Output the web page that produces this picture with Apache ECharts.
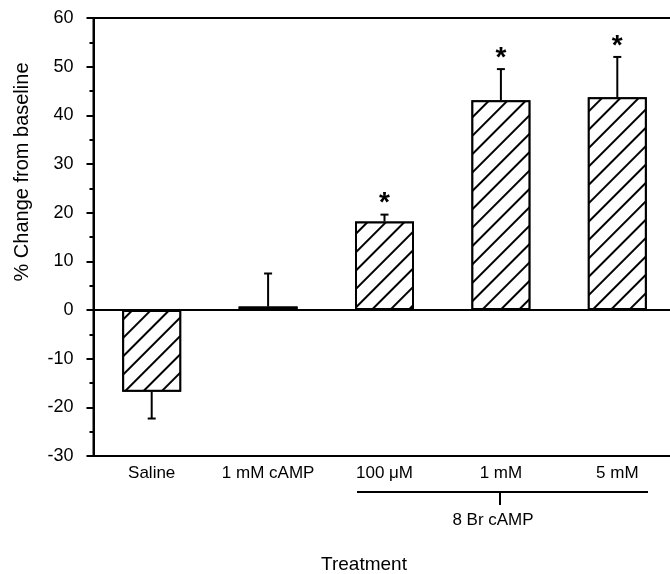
<!DOCTYPE html>
<html>
<head>
<meta charset="utf-8">
<script src="https://cdn.jsdelivr.net/npm/echarts@6/dist/echarts.min.js"></script>
<style>
  html, body { margin: 0; padding: 0; background: #fff; }
  #chart { width: 670px; height: 574px; }
</style>
</head>
<body>
<div id="chart"></div>
<script>
// treatments
const categories = ["Saline", "1 mM cAMP", "100 \u03BCM", "1 mM", "5 mM"];
// mean % change from baseline
const means = [-16.8, 0.7, 18.2, 43.1, 43.7];
// SEM (drawn away from zero)
const sems = [5.5, 6.8, 1.4, 6.4, 8.3];
// significance markers
const sig = [false, false, true, true, true];
const yTicks = [-30, -20, -10, 0, 10, 20, 30, 40, 50, 60];

const font = "'Liberation Sans', Arial, Helvetica, sans-serif";

const chart = echarts.init(document.getElementById("chart"));

const errData = means.map((m, i) => [i, m, sems[i], sig[i] ? 1 : 0]);

const option = {
  animation: false,
  backgroundColor: "#fff",
  grid: {
    left: 93.5,
    top: 18,
    width: 582,
    height: 438,
    outerBoundsMode: "none",
    show: true,
    borderColor: "#000",
    borderWidth: 2,
  },
  xAxis: {
    type: "category",
    data: categories,
    axisLine: { onZero: false, lineStyle: { color: "#000", width: 2 } },
    axisTick: { show: false },
    axisLabel: {
      color: "#000",
      fontFamily: font,
      fontSize: 17,
      margin: 9,
      interval: 0,
    },
  },
  yAxis: {
    type: "value",
    min: yTicks[0],
    max: yTicks[yTicks.length - 1],
    interval: 10,
    splitLine: { show: false },
    axisLine: { show: true, lineStyle: { color: "#000", width: 2 } },
    axisTick: { show: true, length: 7, lineStyle: { color: "#000", width: 2 } },
    minorTick: { show: true, splitNumber: 2, length: 4, lineStyle: { color: "#000", width: 2 } },
    axisLabel: {
      color: "#000",
      fontFamily: font,
      fontSize: 18,
      margin: 20,
    },
  },
  series: [
    {
      type: "bar",
      data: means,
      barWidth: 59,
      itemStyle: {
        color: "#fff",
        borderColor: "#000",
        borderWidth: 2,
        decal: {
          symbol: "rect",
          symbolSize: 1,
          dashArrayX: [1, 0],
          dashArrayY: [1.6, 10.4],
          rotation: -Math.PI / 4,
          color: "#000",
          backgroundColor: "#fff",
        },
      },
      markLine: {
        silent: true,
        symbol: "none",
        label: { show: false },
        lineStyle: { color: "#000", width: 2, type: "solid" },
        data: [{ yAxis: 0 }],
      },
      z: 2,
    },
    {
      // error bars + significance stars
      type: "custom",
      data: errData,
      z: 3,
      renderItem: (params, api) => {
        const i = api.value(0);
        const m = api.value(1);
        const e = api.value(2);
        const end = m < 0 ? m - e : m + e;
        const p0 = api.coord([i, m]);
        const p1 = api.coord([i, end]);
        const cap = 4;
        const style = { stroke: "#000", lineWidth: 2 };
        const children = [
          { type: "line", shape: { x1: p0[0], y1: p0[1], x2: p1[0], y2: p1[1] }, style },
          { type: "line", shape: { x1: p1[0] - cap, y1: p1[1], x2: p1[0] + cap, y2: p1[1] }, style },
        ];
        if (api.value(3)) {
          children.push({
            type: "text",
            style: {
              text: "*",
              x: p1[0],
              y: p1[1] + 3,
              align: "center",
              verticalAlign: "bottom",
              font: "bold 28px " + font,
              fill: "#000",
            },
          });
        }
        return { type: "group", children };
      },
    },
  ],
  graphic: [
    {
      type: "text",
      x: 22,
      y: 172,
      rotation: Math.PI / 2,
      style: {
        text: "% Change from baseline",
        font: "20px " + font,
        fill: "#000",
        align: "center",
        verticalAlign: "middle",
      },
    },
    {
      type: "line",
      shape: { x1: 357, y1: 492, x2: 648, y2: 492 },
      style: { stroke: "#000", lineWidth: 2 },
    },
    {
      type: "line",
      shape: { x1: 500, y1: 492, x2: 500, y2: 505 },
      style: { stroke: "#000", lineWidth: 2 },
    },
    {
      type: "text",
      x: 493,
      y: 520,
      style: {
        text: "8 Br cAMP",
        font: "17px " + font,
        fill: "#000",
        align: "center",
        verticalAlign: "middle",
      },
    },
    {
      type: "text",
      x: 364,
      y: 565,
      style: {
        text: "Treatment",
        font: "19px " + font,
        fill: "#000",
        align: "center",
        verticalAlign: "middle",
      },
    },
  ],
};

chart.setOption(option);
</script>
</body>
</html>
